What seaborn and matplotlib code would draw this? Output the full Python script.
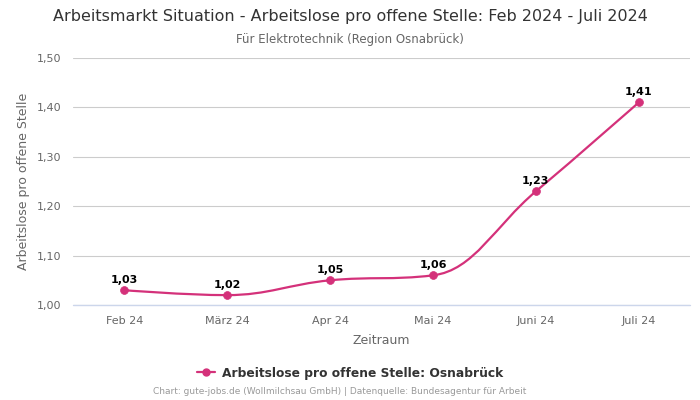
import numpy as np
import pandas as pd
import matplotlib
matplotlib.use("Agg")
import matplotlib.pyplot as plt
from matplotlib.path import Path
from matplotlib.patches import PathPatch
from matplotlib.lines import Line2D
import seaborn as sns

months = ["Feb 24", "März 24", "Apr 24", "Mai 24", "Juni 24", "Juli 24"]
values = [1.03, 1.02, 1.05, 1.06, 1.23, 1.41]
y_ticks = [1.00, 1.10, 1.20, 1.30, 1.40, 1.50]
series_name = "Arbeitslose pro offene Stelle: Osnabrück"

color = "#d4317a"

sns.set_theme(style="white")
plt.rcParams['font.family'] = ['DejaVu Sans']

fig = plt.figure(figsize=(7, 4), dpi=100)
ax = fig.add_axes([0.104, 0.2375, 0.882, 0.6175])

df = pd.DataFrame({"x": np.arange(len(months)), "y": values})

# smooth spline path (Highcharts-like control points) drawn in data coords
def spline_path(xs, ys, smoothing=1.5):
    denom = smoothing + 1
    n = len(xs)
    lc = [None] * n
    rc = [None] * n
    for i in range(n):
        if 0 < i < n - 1:
            px, py = xs[i], ys[i]
            lx, ly = xs[i - 1], ys[i - 1]
            nx, ny = xs[i + 1], ys[i + 1]
            lcx = (smoothing * px + lx) / denom
            lcy = (smoothing * py + ly) / denom
            rcx = (smoothing * px + nx) / denom
            rcy = (smoothing * py + ny) / denom
            if rcx != lcx:
                corr = ((rcy - lcy) * (rcx - px)) / (rcx - lcx) + py - rcy
                lcy += corr
                rcy += corr
            if lcy > max(ly, py) or lcy < min(ly, py):
                lcy = max(ly, py) if lcy > max(ly, py) else min(ly, py)
                rcy = 2 * py - lcy
            if rcy > max(ny, py) or rcy < min(ny, py):
                rcy = max(ny, py) if rcy > max(ny, py) else min(ny, py)
                lcy = 2 * py - rcy
            lc[i] = (lcx, lcy)
            rc[i] = (rcx, rcy)
        else:
            lc[i] = (xs[i], ys[i])
            rc[i] = (xs[i], ys[i])
    verts = [(xs[0], ys[0])]
    codes = [Path.MOVETO]
    for i in range(1, n):
        verts += [rc[i - 1], lc[i], (xs[i], ys[i])]
        codes += [Path.CURVE4] * 3
    return Path(verts, codes)

path = spline_path(list(df["x"]), list(df["y"]))
ax.add_patch(PathPatch(path, facecolor="none", edgecolor=color, lw=1.6, zorder=3))

sns.scatterplot(data=df, x="x", y="y", ax=ax, color=color, s=32,
                edgecolor=color, linewidth=0.5, zorder=4, legend=False)

for xi, yi in zip(df["x"], df["y"]):
    ax.annotate(f"{yi:.2f}".replace(".", ","), (xi, yi), xytext=(0, 4),
                textcoords="offset points", ha="center", va="bottom",
                fontsize=8, fontweight="bold", color="black", zorder=5)

ax.set_xlim(-0.5, len(months) - 0.5)
ax.set_ylim(1.0, 1.5)
ax.set_xticks(range(len(months)))
ax.set_xticklabels(months)
ax.set_yticks(y_ticks)
ax.set_yticklabels([f"{t:.2f}".replace(".", ",") for t in y_ticks])
ax.tick_params(axis="both", labelsize=8, colors="#666666", length=0, pad=8)
ax.yaxis.grid(True, color="#cccccc", lw=0.8)
ax.xaxis.grid(False)
for s in ax.spines.values():
    s.set_visible(False)
ax.axhline(1.0, color="#ccd6eb", lw=1, zorder=2, clip_on=False)
ax.set_xlabel("Zeitraum", fontsize=9, color="#666666", labelpad=6)
ax.set_ylabel("Arbeitslose pro offene Stelle", fontsize=9, color="#666666", labelpad=5)

fig.text(0.5, 1 - 17 / 400, "Arbeitsmarkt Situation - Arbeitslose pro offene Stelle: Feb 2024 - Juli 2024",
         ha="center", va="center", fontsize=11.5, color="#333333")
fig.text(0.5, 1 - 39 / 400, "Für Elektrotechnik (Region Osnabrück)",
         ha="center", va="center", fontsize=8.5, color="#666666")

handle = Line2D([0], [0], color=color, lw=1.6, marker="o", markersize=5)
fig.legend([handle], [series_name], loc="center", bbox_to_anchor=(0.5, 1 - 373 / 400),
           frameon=False, prop={"weight": "bold", "size": 8.8}, labelcolor="#333333",
           handlelength=1.5, handletextpad=0.5)
fig.text(340 / 700, 1 - 392 / 400, "Chart: gute-jobs.de (Wollmilchsau GmbH) | Datenquelle: Bundesagentur für Arbeit",
         ha="center", va="center", fontsize=6.5, color="#999999")

fig.savefig("out.png", dpi=100, facecolor="white")
